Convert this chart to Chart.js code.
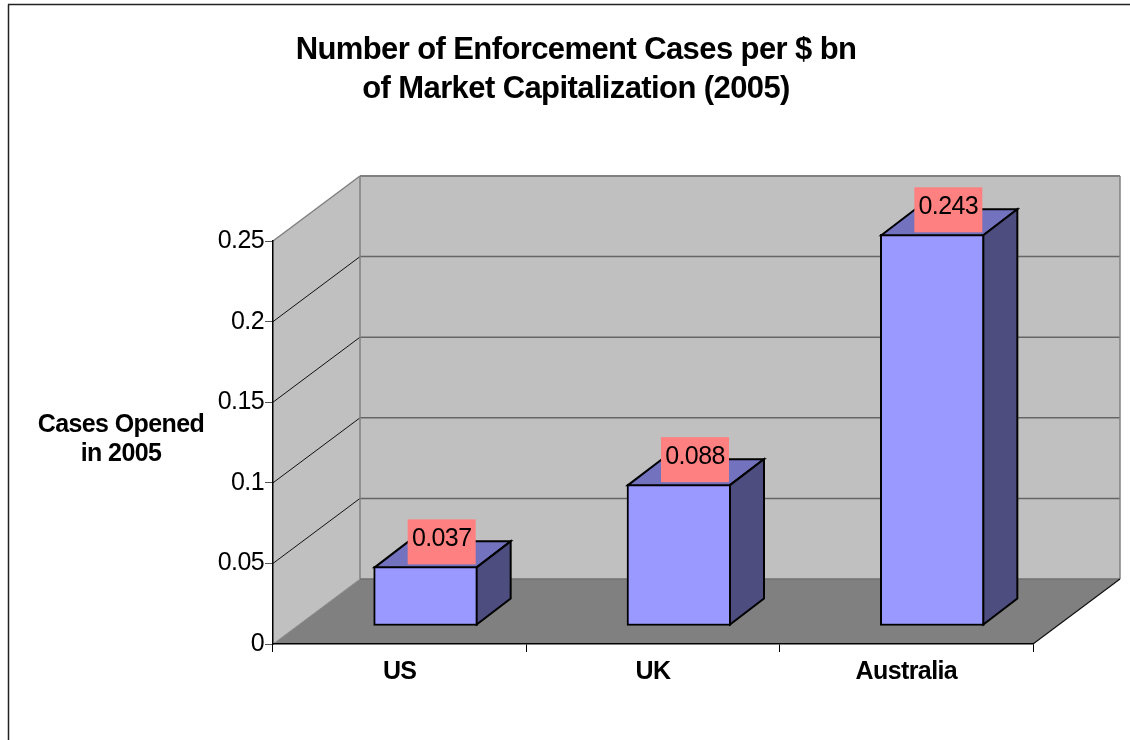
<!DOCTYPE html>
<html>
<head>
<meta charset="utf-8">
<title>Enforcement Cases</title>
<script src="https://cdn.jsdelivr.net/npm/chart.js@4/dist/chart.umd.min.js"></script>
<style>
  body { margin: 0; background: #fff; }
  canvas { display: block; }
</style>
</head>
<body>
<canvas id="cases-chart" width="1130" height="740"></canvas>
<script>
// chart data
const categories = ['US', 'UK', 'Australia'];
const casesOpened = [0.037, 0.088, 0.243];
const titleLines = ['Number of Enforcement Cases per $ bn', 'of Market Capitalization (2005)'];
const yTitleLines = ['Cases Opened', 'in 2005'];

const FONT = '"Liberation Sans", Arial, sans-serif';

// depth of the 3D box the plot sits in
const wallDx = 87, wallDy = -65;
// bars stand part way into that box, and have some depth of their own
const barShiftX = 26, barShiftY = -18;
const barDx = 34, barDy = -26;

function poly(ctx, pts, fill, stroke, lw) {
  ctx.beginPath();
  pts.forEach((p, i) => i ? ctx.lineTo(p[0], p[1]) : ctx.moveTo(p[0], p[1]));
  ctx.closePath();
  if (fill) { ctx.fillStyle = fill; ctx.fill(); }
  if (stroke) { ctx.strokeStyle = stroke; ctx.lineWidth = lw; ctx.lineJoin = 'miter'; ctx.stroke(); }
}

function line(ctx, x1, y1, x2, y2, color, lw) {
  ctx.beginPath();
  ctx.moveTo(x1, y1);
  ctx.lineTo(x2, y2);
  ctx.strokeStyle = color;
  ctx.lineWidth = lw;
  ctx.stroke();
}

// page frame, walls and floor go under the axes
const boxPlugin = {
  id: 'box3d',
  beforeDraw(chart) {
    const { ctx, scales: { x, y } } = chart;
    const l = x.left, r = x.right, b = y.bottom, t = y.top;
    // the original text runs tight, glyphs almost touching
    // (set here because resizing the canvas resets the context)
    ctx.letterSpacing = '-0.6px';
    ctx.save();
    ctx.fillStyle = '#fff';
    ctx.fillRect(0, 0, chart.width, chart.height);

    // frame is cut off on the right and at the bottom
    line(ctx, 8.5, 740, 8.5, 4.5, '#222', 1.5);
    line(ctx, 8, 4.5, 1130, 4.5, '#222', 1.5);

    // back wall
    poly(ctx, [[l + wallDx, t + wallDy], [r + wallDx, t + wallDy], [r + wallDx, b + wallDy], [l + wallDx, b + wallDy]], '#c0c0c0');
    // left wall
    poly(ctx, [[l, t], [l + wallDx, t + wallDy], [l + wallDx, b + wallDy], [l, b]], '#c0c0c0');
    // floor
    poly(ctx, [[l, b], [r, b], [r + wallDx, b + wallDy], [l + wallDx, b + wallDy]], '#808080');

    // gridlines run along the left wall and across the back
    y.ticks.forEach(tick => {
      if (tick.value === 0 || tick.value === y.max) return;
      const py = y.getPixelForValue(tick.value);
      line(ctx, l, py, l + wallDx, py + wallDy, '#111', 1);
      line(ctx, l + wallDx, py + wallDy, r + wallDx, py + wallDy, '#666', 1.5);
    });

    // wall edges
    line(ctx, l, t, l + wallDx, t + wallDy, '#808080', 1.5);
    line(ctx, l + wallDx, t + wallDy, r + wallDx, t + wallDy, '#808080', 2);
    line(ctx, l + wallDx, t + wallDy, l + wallDx, b + wallDy, '#808080', 1.5);
    line(ctx, r + wallDx, t + wallDy, r + wallDx, b + wallDy, '#808080', 1.5);
    line(ctx, l + wallDx, b + wallDy, r + wallDx, b + wallDy, '#707070', 1.5);
    line(ctx, l, b, l + wallDx, b + wallDy, '#909090', 1);
    line(ctx, r, b, r + wallDx, b + wallDy, '#111', 1.2);

    // y axis title, horizontal
    ctx.fillStyle = '#000';
    ctx.font = 'bold 25px ' + FONT;
    ctx.textAlign = 'center';
    ctx.textBaseline = 'middle';
    yTitleLines.forEach((txt, i) => ctx.fillText(txt, 121, 425 + i * 29));
    ctx.restore();
  },
  beforeDatasetsDraw(chart) {
    chart.ctx.save();
    chart.ctx.translate(barShiftX, barShiftY);
  },
  afterDatasetsDraw(chart) {
    const ctx = chart.ctx;
    const bars = chart.getDatasetMeta(0).data;
    bars.forEach((bar, i) => {
      const L = bar.x - bar.width / 2 + 1, R = bar.x + bar.width / 2 - 1;
      const T = bar.y + 1, B = bar.base - 1;
      poly(ctx, [[L, T], [L + barDx, T + barDy], [R + barDx, T + barDy], [R, T]], '#7272bf', '#000', 2);
      poly(ctx, [[R, T], [R + barDx, T + barDy], [R + barDx, B + barDy], [R, B]], '#4d4d80', '#000', 2);
    });
    bars.forEach((bar, i) => {
      // value label on a pink box, sat on the top face
      const boxR = bar.x + bar.width / 2 - 2, boxB = bar.y - 2;
      ctx.fillStyle = '#ff8080';
      ctx.fillRect(boxR - 68, boxB - 45, 68, 45);
      ctx.fillStyle = '#000';
      ctx.font = '25px ' + FONT;
      ctx.textAlign = 'center';
      ctx.textBaseline = 'middle';
      ctx.fillText(String(casesOpened[i]), boxR - 34, boxB - 25);
    });
    ctx.restore();
  }
};

const config = {
  type: 'bar',
  data: {
    labels: categories,
    datasets: [{
      data: casesOpened,
      backgroundColor: '#9999ff',
      borderColor: '#000',
      borderWidth: 2,
      borderSkipped: false,
      barThickness: 104,
      clip: false
    }]
  },
  options: {
    responsive: false,
    devicePixelRatio: 1,
    animation: false,
    events: [],
    layout: { padding: { left: 119, right: 97, top: 0, bottom: 0 } },
    plugins: {
      legend: { display: false },
      tooltip: { enabled: false },
      title: {
        display: true,
        text: titleLines,
        color: '#000',
        font: { family: FONT, size: 31, weight: 'bold', lineHeight: 1.26 },
        padding: { top: 30.5, bottom: 132.4 }
      }
    },
    scales: {
      x: {
        afterFit: s => { s.height = 96; },
        border: { color: '#000', width: 1.5 },
        grid: { drawOnChartArea: false, color: '#000', tickLength: 8 },
        ticks: { color: '#000', padding: 5, maxRotation: 0, font: { family: FONT, size: 25, weight: 'bold' } }
      },
      y: {
        min: 0,
        max: 0.25,
        afterFit: s => { s.width = 154; },
        border: { color: '#000', width: 1.5 },
        grid: { drawOnChartArea: false, color: '#555', tickLength: 8 },
        ticks: {
          stepSize: 0.05,
          color: '#000',
          padding: 1,
          font: { family: FONT, size: 25 },
          callback: v => String(+v.toFixed(2))
        }
      }
    }
  },
  plugins: [boxPlugin]
};

const ctx = document.getElementById('cases-chart').getContext('2d');
const casesChart = new Chart(ctx, config);
</script>
</body>
</html>
